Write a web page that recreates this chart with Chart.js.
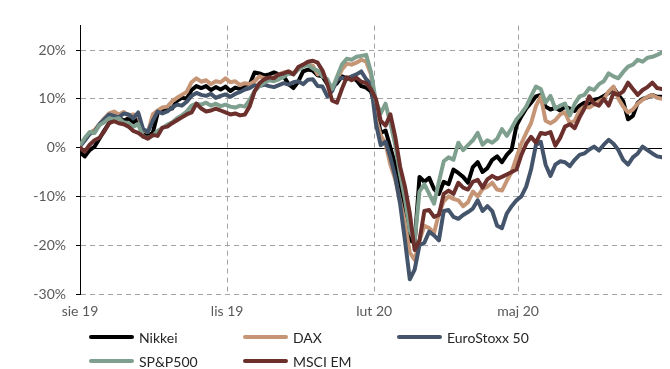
<!DOCTYPE html>
<html>
<head>
<meta charset="utf-8">
<script src="https://cdn.jsdelivr.net/npm/chart.js@4.4.1/dist/chart.umd.min.js"></script>
<style>
  html, body { margin: 0; padding: 0; background: #fff; }
  #wrap { position: relative; width: 670px; height: 369px; }
  #c { position: absolute; left: 0; top: 0; }
  .item { position: absolute; display: flex; align-items: center; height: 20px;
          font: 14px Lato, sans-serif; color: #262626; white-space: nowrap; }
  .swatch { width: 45px; height: 4px; border-radius: 2px; margin-right: 5px; }
</style>
</head>
<body>
<div id="wrap">
  <canvas id="c" width="670" height="369"></canvas>
  <div id="legend"></div>
</div>
<script>
// Date range and axis labels (Polish month abbreviations)
const firstDate = '2019-08-01';
const lastDate = '2020-07-30';
const tickDates = ['2019-08-01', '2019-11-01', '2020-02-01', '2020-05-01'];
const tickLabels = ['sie 19', 'lis 19', 'lut 20', 'maj 20'];
const yTicks = [-30, -20, -10, 0, 10, 20];

// Cumulative return in %, sampled evenly over the period
const nikkei = [
  -1.0, -1.8, -0.5, 0.2, 1.8, 3.5, 5.0, 5.8, 6.2, 5.5,
  6.0, 5.2, 5.8, 3.5, 2.5, 3.0, 7.0, 7.8, 8.2, 8.0,
  9.6, 10.2, 10.0, 11.8, 12.6, 12.2, 12.6, 11.8, 12.4, 11.9,
  12.5, 11.6, 12.3, 12.0, 12.8, 13.0, 15.4, 15.2, 14.8, 15.0,
  15.4, 15.0, 14.6, 13.0, 12.2, 13.5, 15.6, 16.0, 15.8, 14.8,
  14.6, 13.0, 12.4, 13.2, 14.6, 14.2, 14.5, 13.8, 12.6, 12.3,
  11.5, 8.0, 3.0, 3.5, 0.0, -3.5, -8.0, -14.0, -19.0, -19.5,
  -6.0, -7.0, -6.2, -8.5, -9.5, -7.0, -7.5, -4.5, -5.2, -6.0,
  -7.2, -4.0, -3.0, -5.0, -4.2, -2.5, -1.8, -3.0, -1.5, -0.4,
  4.5, 6.4, 8.0, 9.2, 10.5, 10.8, 8.4, 7.8, 8.2, 7.6,
  8.4, 8.0, 7.5, 8.6, 9.2, 8.8, 9.8, 10.0, 10.6, 11.2,
  12.3, 10.8, 9.5, 5.8, 6.5, 9.2, 10.0, 10.3, 10.8, 10.4,
  10.4
];
const dax = [
  0.5, 1.5, 3.0, 3.6, 4.8, 6.0, 7.0, 7.4, 6.8, 7.3,
  6.6, 6.8, 6.5, 3.5, 3.2, 6.8, 7.6, 8.2, 8.4, 9.5,
  10.2, 10.8, 11.4, 13.4, 14.2, 13.5, 13.8, 13.0, 13.6, 13.4,
  14.2, 13.4, 13.6, 12.8, 13.2, 13.0, 13.6, 14.6, 14.2, 14.0,
  14.4, 15.0, 15.4, 15.6, 15.2, 16.2, 16.8, 17.0, 16.8, 15.0,
  15.6, 13.4, 12.0, 14.0, 16.0, 17.2, 17.0, 17.4, 18.0, 17.6,
  15.0, 6.0, 2.5, 0.8, -3.5, -6.5, -11.0, -15.5, -21.5, -23.0,
  -19.0, -16.0, -16.5, -17.5, -13.5, -11.0, -10.0, -10.5, -10.8, -12.0,
  -11.2, -9.0, -10.0, -8.5, -8.0, -7.2, -8.6, -8.8, -6.8, -5.0,
  -2.0, 0.8, 3.0, 5.0, 8.5, 10.5, 5.5, 5.0, 5.6, 6.8,
  7.2, 5.0, 5.5, 7.6, 8.4, 8.2, 8.8, 9.5, 10.0, 11.5,
  12.5, 10.0, 8.4, 7.2, 7.8, 9.0, 9.8, 10.4, 10.8, 10.2,
  10.0
];
const euroStoxx = [
  0.2, 1.5, 2.8, 3.2, 4.8, 5.8, 6.8, 6.5, 6.2, 7.0,
  6.8, 6.0, 7.2, 3.8, 3.2, 5.5, 7.4, 7.0, 7.4, 8.2,
  8.8, 8.6, 9.4, 10.6, 11.2, 10.8, 10.6, 11.0, 10.2, 10.6,
  10.9, 10.4, 11.0, 11.4, 11.9, 12.2, 12.8, 12.6, 12.9, 12.6,
  12.4, 12.8, 13.2, 12.9, 13.4, 13.6, 13.0, 13.9, 14.0, 12.6,
  12.5, 10.5, 11.6, 14.0, 14.3, 14.0, 14.6, 15.0, 15.6, 14.0,
  13.0, 5.0, 0.5, 1.2, -2.0, -6.0, -11.5, -19.0, -27.0, -25.0,
  -20.0, -19.5, -17.2, -18.0, -19.0, -13.0, -12.8, -14.2, -14.6, -13.8,
  -13.2, -12.5, -10.8, -13.0, -12.0, -13.0, -16.0, -16.5, -13.5, -12.0,
  -10.8, -10.0, -8.0, -4.5, 0.5, 1.2, -3.5, -5.8, -3.5, -2.8,
  -3.0, -3.8, -2.5, -1.5, -1.2, -0.4, 0.2, -0.6, 0.6, 1.6,
  0.8, -0.5, -2.5, -3.5, -2.0, -1.2, 0.2, -0.5, -1.2, -1.8,
  -2.0
];
const sp500 = [
  0.5, 2.0, 3.2, 3.0, 4.6, 5.2, 6.0, 5.8, 6.0, 5.2,
  5.0, 4.3, 4.8, 2.2, 2.0, 2.4, 3.4, 4.0, 4.7, 5.2,
  6.0, 6.6, 7.4, 8.6, 9.0, 8.8, 9.2, 8.6, 9.0, 8.5,
  8.8, 8.4, 8.2, 8.6, 8.4, 9.8, 11.6, 12.6, 13.3, 13.8,
  13.6, 14.0, 14.5, 15.2, 15.0, 16.0, 16.6, 17.0, 16.2, 15.8,
  14.6, 14.0, 12.0, 14.5, 17.0, 18.2, 18.0, 18.6, 18.8, 19.0,
  15.5, 9.5, 7.0, 9.0, 5.0, 0.5, -5.5, -10.5, -17.0, -19.2,
  -9.0, -7.5, -9.5, -11.5, -7.0, -2.8, -2.0, -2.5, 1.0, -0.5,
  0.5, 1.5, 3.0, 0.6, 1.5, 1.0, 1.8, 3.8, 2.4, 4.0,
  5.8, 7.0, 8.4, 10.5, 12.5, 12.0, 9.2, 10.6, 8.0, 8.6,
  9.0, 6.6, 9.0, 10.5, 10.8, 12.2, 11.8, 13.0, 13.6, 15.2,
  14.6, 14.2, 15.5, 16.6, 17.0, 18.0, 17.6, 18.4, 18.6, 19.0,
  19.5
];
const msciEm = [
  0.0, -0.8, 0.6, 1.5, 2.0, 3.3, 5.0, 5.4, 5.0, 4.8,
  4.3, 3.4, 3.0, 2.3, 1.8, 2.6, 2.4, 4.1, 4.3, 5.0,
  5.6, 6.2, 6.8, 7.2, 9.0, 8.0, 7.4, 7.6, 8.0, 7.6,
  7.2, 6.8, 7.0, 6.6, 6.8, 8.5, 11.5, 13.2, 14.0, 14.4,
  14.2, 15.0, 15.2, 15.6, 15.0, 16.5, 17.0, 17.6, 17.8, 17.4,
  15.8, 13.0, 9.6, 9.2, 12.0, 14.4, 13.8, 14.3, 13.5, 13.2,
  12.0, 10.0, 5.5, 4.5, 6.8, 2.2, -3.9, -8.0, -13.5, -21.0,
  -19.0, -13.0, -12.8, -14.2, -13.8, -9.5, -8.8, -9.5, -7.2, -8.2,
  -8.6, -7.0, -6.6, -8.2, -6.5, -5.8, -6.4, -6.0, -5.5, -5.0,
  -4.5, -1.5, 0.8, 2.2, 1.0, 3.0, 2.8, 3.2, 0.4, 2.0,
  4.3, 4.8, 4.0, 6.2, 8.0, 10.5, 9.0, 8.6, 10.0, 8.6,
  11.2, 10.8, 11.5, 13.3, 12.0, 10.8, 11.8, 12.4, 13.3, 12.2,
  12.0
];

const series = [
  { label: 'Nikkei',       values: nikkei,    color: '#000000', order: 5 },
  { label: 'DAX',          values: dax,       color: '#c59576', order: 4 },
  { label: 'EuroStoxx 50', values: euroStoxx, color: '#44546a', order: 3 },
  { label: 'SP&P500',      values: sp500,     color: '#7fa08f', order: 2 },
  { label: 'MSCI EM',      values: msciEm,    color: '#6b2f2c', order: 1 }
];

const DAY = 86400000;
const dayOffset = d => (Date.parse(d) - Date.parse(firstDate)) / DAY;
const spanDays = dayOffset(lastDate);
const tickDays = tickDates.map(dayOffset);

// Spread samples evenly across the date range
const toPoints = vals => vals.map((v, i) => ({ x: i * spanDays / (vals.length - 1), y: v }));

const gridGrey = '#a3a3a3';
const tickFont = { family: 'Lato', size: 14 };

// Solid baseline at 0%
const zeroLine = {
  id: 'zeroLine',
  beforeDatasetsDraw(chart) {
    const { ctx, chartArea: a, scales: { y } } = chart;
    const py = Math.round(y.getPixelForValue(0)) + 0.5;
    ctx.save();
    ctx.strokeStyle = '#000';
    ctx.lineWidth = 1;
    ctx.beginPath();
    ctx.moveTo(a.left, py);
    ctx.lineTo(a.right, py);
    ctx.stroke();
    ctx.restore();
  }
};

new Chart(document.getElementById('c'), {
  type: 'line',
  data: {
    datasets: series.map(s => ({
      label: s.label,
      data: toPoints(s.values),
      borderColor: s.color,
      backgroundColor: s.color,
      borderWidth: 4,
      order: s.order,
      fill: false
    }))
  },
  options: {
    responsive: false,
    animation: false,
    devicePixelRatio: 1,
    layout: { padding: { top: 25.6, right: 8, left: 0, bottom: 0 } },
    plugins: { legend: { display: false }, tooltip: { enabled: false } },
    elements: {
      point: { radius: 0 },
      line: { tension: 0, borderJoinStyle: 'round', borderCapStyle: 'round' }
    },
    scales: {
      x: {
        type: 'linear',
        min: 0,
        max: spanDays,
        afterFit(s) { s.height = 75; },
        afterBuildTicks(s) { s.ticks = tickDays.map(v => ({ value: v })); },
        ticks: {
          autoSkip: false,
          maxRotation: 0,
          padding: 9,
          font: tickFont,
          color: '#595959',
          callback: v => tickLabels[tickDays.indexOf(v)]
        },
        grid: {
          color: c => (c.tick && c.tick.value === 0) ? 'rgba(0,0,0,0)' : gridGrey,
          lineWidth: 1,
          drawTicks: false
        },
        border: { display: false, dash: [5, 4] }
      },
      y: {
        min: -30,
        max: 25,
        afterFit(s) { s.width = 80; },
        afterBuildTicks(s) { s.ticks = yTicks.map(v => ({ value: v })); },
        ticks: {
          padding: 10,
          font: tickFont,
          color: '#595959',
          callback: v => v + '%'
        },
        grid: {
          color: c => (c.tick && c.tick.value === 0) ? 'rgba(0,0,0,0)' : gridGrey,
          lineWidth: 1,
          drawTicks: true,
          tickLength: 4,
          tickColor: '#000',
          tickBorderDash: []
        },
        border: { display: true, color: '#000', width: 1, dash: [5, 4] }
      }
    }
  },
  plugins: [zeroLine]
});

// Legend: two rows, fixed columns
const legendCols = [89, 243, 397];
const legendRows = [337, 361];
const legend = document.getElementById('legend');
series.forEach((s, i) => {
  const item = document.createElement('div');
  item.className = 'item';
  item.style.left = legendCols[i % 3] + 'px';
  item.style.top = (legendRows[Math.floor(i / 3)] - 10) + 'px';
  const sw = document.createElement('span');
  sw.className = 'swatch';
  sw.style.background = s.color;
  const tx = document.createElement('span');
  tx.textContent = s.label;
  item.appendChild(sw);
  item.appendChild(tx);
  legend.appendChild(item);
});
</script>
</body>
</html>
